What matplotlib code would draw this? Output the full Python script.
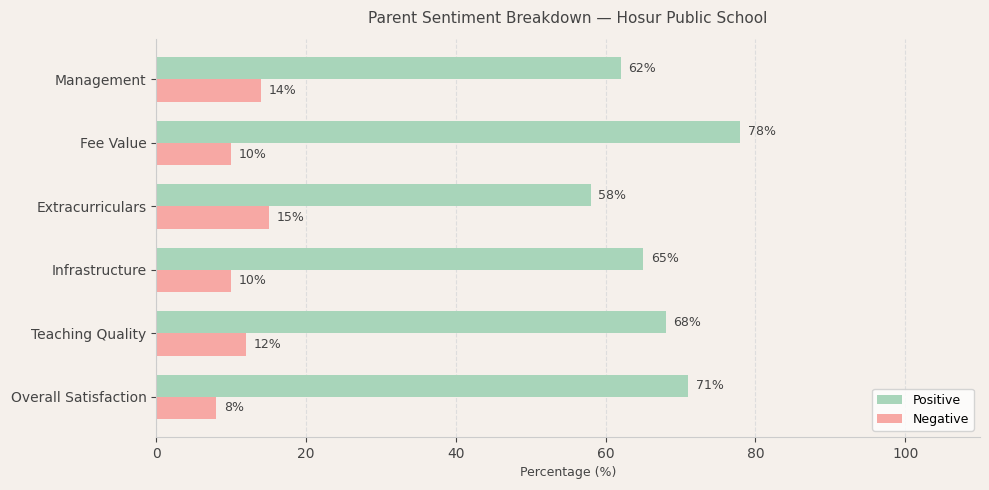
import matplotlib.pyplot as plt
import numpy as np

categories = ['Overall Satisfaction', 'Teaching Quality', 'Infrastructure',
              'Extracurriculars', 'Fee Value', 'Management']
positive = [71, 68, 65, 58, 78, 62]
negative = [8, 12, 10, 15, 10, 14]

bg = '#f5f0eb'
text_col = '#444444'

fig, ax = plt.subplots(figsize=(9.89, 4.9), dpi=100)
fig.patch.set_facecolor(bg)
ax.set_facecolor(bg)

y = np.arange(len(categories))
h = 0.35
bars_pos = ax.barh(y + h/2, positive, h, label='Positive', color='#a8d5ba')
bars_neg = ax.barh(y - h/2, negative, h, label='Negative', color='#f7a8a4')

for bar in list(bars_pos) + list(bars_neg):
    w = bar.get_width()
    ax.annotate(f'{w:.0f}%', xy=(w, bar.get_y() + bar.get_height() / 2),
                xytext=(5.5, 0), textcoords='offset points',
                ha='left', va='center', fontsize=9, color=text_col)

ax.set_yticks(y)
ax.set_yticklabels(categories)
ax.set_xlim(0, 110)
ax.set_xlabel('Percentage (%)', fontsize=9, color=text_col)
ax.set_title('Parent Sentiment Breakdown — Hosur Public School', fontsize=11, color=text_col, pad=12)
ax.tick_params(axis='both', labelsize=10, colors=text_col)
for s in ['top', 'right']:
    ax.spines[s].set_visible(False)
for s in ['left', 'bottom']:
    ax.spines[s].set_color('#cccccc')
ax.xaxis.grid(True, linestyle='--', color='#dddddd', linewidth=0.8)
ax.set_axisbelow(True)
ax.legend(loc='lower right', fontsize=9, facecolor='white', edgecolor='#cccccc')

plt.subplots_adjust(left=0.158, right=0.991, top=0.92, bottom=0.108)
plt.savefig('out.png', facecolor=bg)
